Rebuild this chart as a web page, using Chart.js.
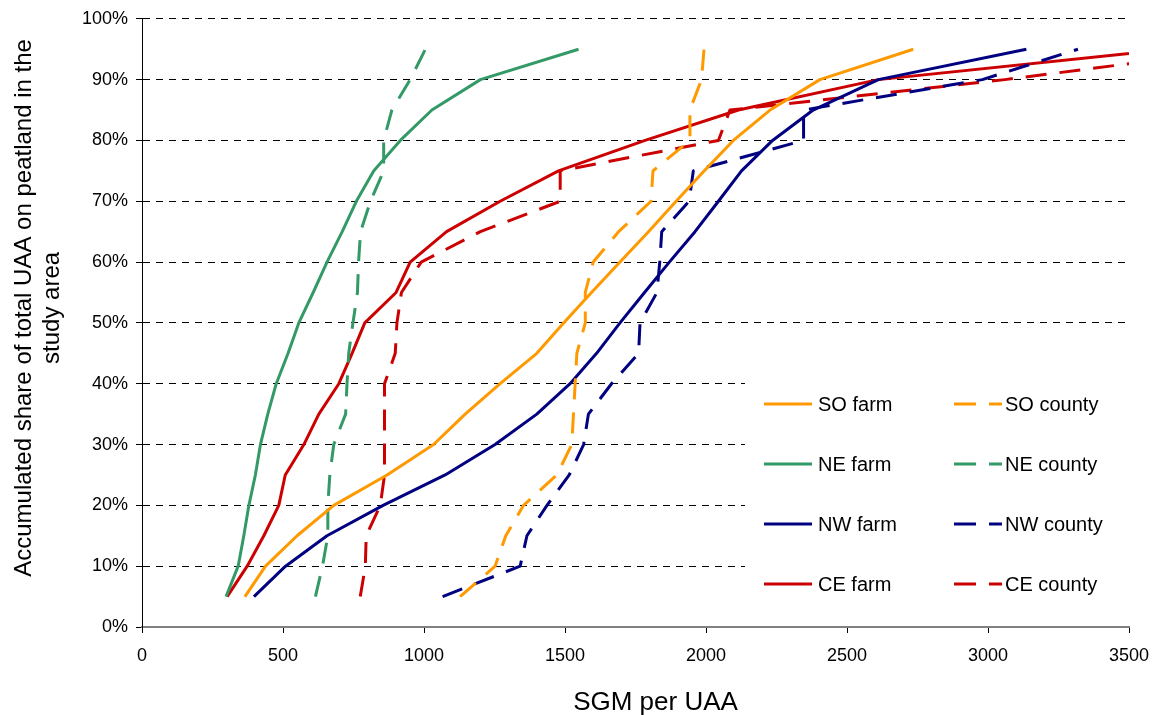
<!DOCTYPE html>
<html>
<head>
<meta charset="utf-8">
<title>SGM per UAA</title>
<script src="https://cdn.jsdelivr.net/npm/chart.js@4.4.0/dist/chart.umd.min.js"></script>
<style>
  html, body { margin: 0; padding: 0; background: #fff; }
</style>
</head>
<body>
<canvas id="chart" width="1159" height="715"></canvas>
<script>
// accumulated share of UAA (%), same steps for every series
const shares = [5, 10, 15, 20, 25, 30, 35, 40, 45, 50, 55, 60, 65, 70, 75, 80, 85, 90, 95];

// SGM per UAA, one value per share step
const soFarm   = [365, 438, 550, 680, 869, 1034, 1146, 1270, 1400, 1495, 1594, 1695, 1796, 1894, 1994, 2097, 2227, 2404, 2735];
const soCounty = [1128, 1252, 1290, 1353, 1471, 1524, 1530, 1536, 1542, 1572, 1572, 1600, 1690, 1805, 1812, 1943, 1943, 1984, 1993];
const neFarm   = [298, 341, 361, 379, 402, 420, 446, 476, 518, 556, 607, 656, 710, 760, 822, 916, 1028, 1200, 1548];
const neCounty = [615, 640, 659, 659, 666, 680, 722, 727, 733, 748, 764, 768, 775, 810, 857, 857, 886, 951, 1005];
const nwFarm   = [397, 509, 656, 855, 1075, 1252, 1400, 1518, 1612, 1695, 1782, 1870, 1961, 2044, 2126, 2236, 2380, 2611, 3136];
const nwCounty = [1066, 1341, 1365, 1436, 1515, 1566, 1583, 1665, 1761, 1766, 1826, 1836, 1843, 1940, 1955, 2346, 2346, 2980, 3319];
const ceFarm   = [302, 373, 432, 485, 508, 574, 627, 698, 745, 790, 901, 951, 1080, 1270, 1477, 1784, 2115, 2611, 3650];
const ceCounty = [774, 792, 795, 845, 860, 860, 860, 860, 898, 904, 920, 990, 1200, 1483, 1483, 2044, 2085, 3060, 3900];

const xTicks = [0, 500, 1000, 1500, 2000, 2500, 3000, 3500];
const yTicks = [0, 10, 20, 30, 40, 50, 60, 70, 80, 90, 100];

const FONT = "'Liberation Sans', Arial, sans-serif";
const DASH = [21, 13];

function toPoints(xs) {
  return xs.map((x, i) => ({ x: x, y: shares[i] }));
}

function series(label, xs, color, dashed) {
  return {
    label: label,
    data: toPoints(xs),
    borderColor: color,
    backgroundColor: color,
    borderWidth: 3,
    borderDash: dashed ? DASH : [],
    borderJoinStyle: "round",
    pointRadius: 0,
    tension: 0,
    fill: false,
  };
}

// legend box inside the plot + axis titles
const legendInside = {
  id: "legendInside",
  afterDatasetsDraw(chart) {
    const ctx = chart.ctx;
    const area = chart.chartArea;
    const sets = chart.data.datasets;
    const boxL = area.right - 384, boxR = area.right - 3;
    const boxT = area.bottom - 251, boxB = area.bottom - 15;

    ctx.save();
    ctx.fillStyle = "#fff";
    ctx.fillRect(boxL, boxT, boxR - boxL, boxB - boxT);

    ctx.font = "20px " + FONT;
    ctx.textBaseline = "middle";
    ctx.fillStyle = "#000";
    for (let i = 0; i < sets.length; i++) {
      const col = i % 2;
      const row = Math.floor(i / 2);
      const y = boxT + 28 + row * 60;
      const x0 = boxL + 19 + col * 190;
      ctx.beginPath();
      ctx.strokeStyle = sets[i].borderColor;
      ctx.lineWidth = 3;
      ctx.setLineDash(sets[i].borderDash.length ? [22, 13] : []);
      ctx.moveTo(x0, y);
      ctx.lineTo(x0 + 48, y);
      ctx.stroke();
      ctx.setLineDash([]);
      ctx.fillText(sets[i].label, x0 + 54 - col * 3, y + 1);
    }
    ctx.restore();
  },
  afterDraw(chart) {
    const ctx = chart.ctx;
    const area = chart.chartArea;
    ctx.save();
    ctx.fillStyle = "#000";
    ctx.textAlign = "center";
    ctx.textBaseline = "middle";

    ctx.font = "26px " + FONT;
    ctx.fillText("SGM per UAA", (area.left + area.right) / 2 + 20, area.bottom + 76);

    ctx.font = "24px " + FONT;
    ctx.translate(24, (area.top + area.bottom) / 2 - 15);
    ctx.rotate(-Math.PI / 2);
    ctx.fillText("Accumulated share of total UAA on peatland in the", 0, 0);
    ctx.fillText("study area", 0, 28);
    ctx.restore();
  },
};

const chart = new Chart(document.getElementById("chart"), {
  type: "line",
  data: {
    datasets: [
      series("SO farm", soFarm, "#FF9900", false),
      series("SO county", soCounty, "#FF9900", true),
      series("NE farm", neFarm, "#339966", false),
      series("NE county", neCounty, "#339966", true),
      series("NW farm", nwFarm, "#000080", false),
      series("NW county", nwCounty, "#000080", true),
      series("CE farm", ceFarm, "#CC0000", false),
      series("CE county", ceCounty, "#CC0000", true),
    ],
  },
  options: {
    responsive: false,
    animation: false,
    layout: { padding: { left: 0, right: 30, top: 17, bottom: 0 } },
    plugins: {
      legend: { display: false },
      tooltip: { enabled: false },
    },
    scales: {
      x: {
        type: "linear",
        min: 0,
        max: 3500,
        afterFit: (scale) => {
          scale.height = 88;
          scale.paddingLeft = 0;
          scale.paddingRight = 0;
        },
        afterBuildTicks: (scale) => { scale.ticks = xTicks.map((v) => ({ value: v })); },
        ticks: {
          color: "#000",
          font: { family: FONT, size: 18 },
          padding: 12,
          maxRotation: 0,
          callback: (v) => String(v),
        },
        grid: {
          display: true,
          drawOnChartArea: false,
          drawTicks: true,
          tickLength: 6,
          tickColor: "#000",
        },
        border: { display: true, color: "#808080", width: 2 },
      },
      y: {
        type: "linear",
        min: 0,
        max: 100,
        afterFit: (scale) => { scale.width = 142; },
        afterBuildTicks: (scale) => { scale.ticks = yTicks.map((v) => ({ value: v })); },
        ticks: {
          color: "#000",
          font: { family: FONT, size: 18 },
          padding: 8,
          callback: (v) => v + "%",
        },
        grid: {
          color: "#000",
          lineWidth: 1,
          tickLength: 6,
          tickColor: "#000",
        },
        border: { display: true, color: "#000", width: 1, dash: [7, 6] },
      },
    },
  },
  plugins: [legendInside],
});
</script>
</body>
</html>
